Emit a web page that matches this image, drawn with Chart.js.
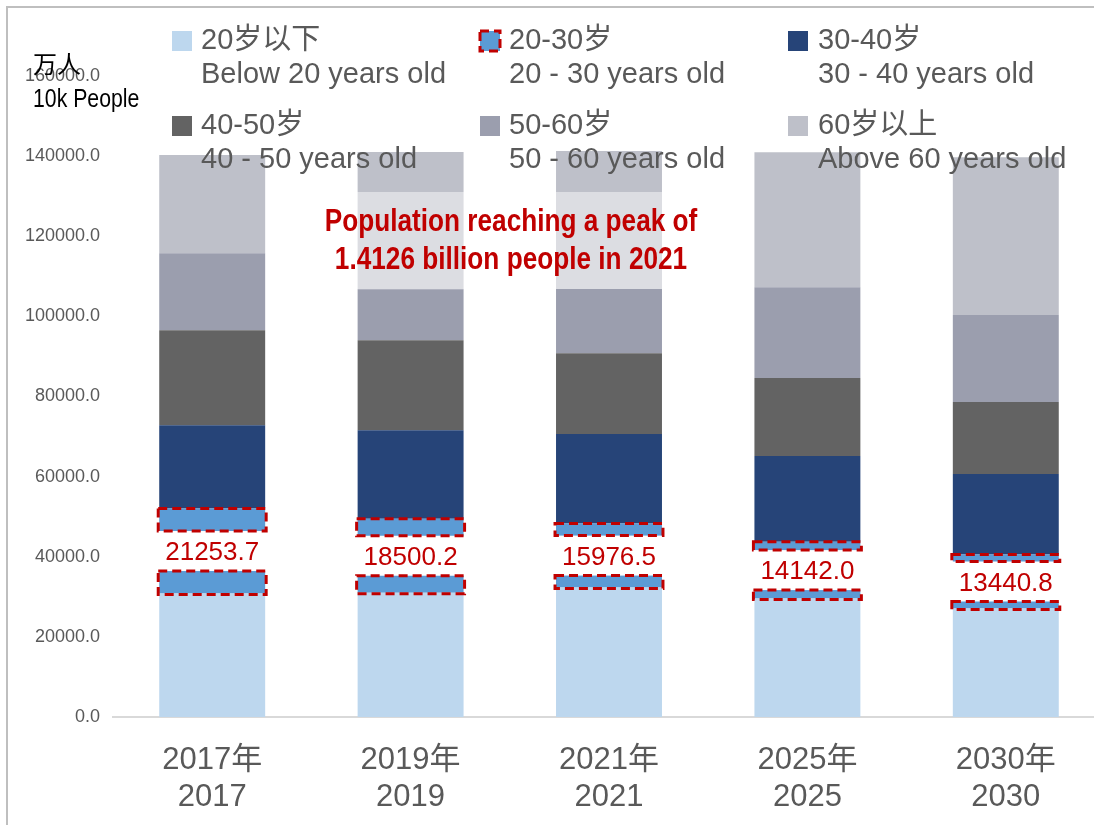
<!DOCTYPE html>
<html>
<head>
<meta charset="utf-8">
<title>人口年龄结构 Population by age group</title>
<script src="https://cdn.jsdelivr.net/npm/chart.js@4.4.1/dist/chart.umd.min.js"></script>
<style>
  html, body { margin: 0; padding: 0; background: #fff; overflow: hidden; }
  #wrap { width: 1094px; height: 825px; overflow: hidden; position: relative; }
  canvas { display: block; }
</style>
</head>
<body>
<div id="wrap"><canvas id="chart" width="1110" height="825"></canvas></div>
<script>
// Population by age group, unit: 10k people (万人)
const yearsCn = ['2017年', '2019年', '2021年', '2025年', '2030年'];
const yearsEn = ['2017', '2019', '2021', '2025', '2030'];

const groupsCn = ['20岁以下', '20-30岁', '30-40岁', '40-50岁', '50-60岁', '60岁以上'];
const groupsEn = ['Below 20 years old', '20 - 30 years old', '30 - 40 years old',
                  '40 - 50 years old', '50 - 60 years old', 'Above 60 years old'];

const below20   = [30800, 31000, 32300, 29600, 27100];
const age20to30 = [21253.7, 18500.2, 15976.5, 14142.0, 13440.8];
const age30to40 = [20800, 22100, 22350, 21400, 20100];
const age40to50 = [23700, 22450, 20200, 19450, 18000];
const age50to60 = [19200, 12700, 16000, 22700, 21700];
const above60   = [24500, 34250, 34433.5, 33700, 39400];

const colors = ['#BDD7EE', '#5B9BD5', '#264478', '#636363', '#9B9EAE', '#BEC0C9'];

const yTicks = [0, 20000, 40000, 60000, 80000, 100000, 120000, 140000, 160000];

const RED = '#C00000';
const GREY_TEXT = '#595959';
const FONT = '"Liberation Sans", Arial, "Noto Sans CJK SC", sans-serif';

Chart.defaults.font.family = FONT;

const seriesValues = [below20, age20to30, age30to40, age40to50, age50to60, above60];

const datasets = seriesValues.map((vals, i) => ({
  label: groupsCn[i],
  data: vals,
  backgroundColor: colors[i],
  borderWidth: 0,
  categoryPercentage: 1,
  barPercentage: 0.534
}));

function dashedRect(ctx, x, y, w, h) {
  ctx.save();
  ctx.strokeStyle = RED;
  ctx.lineWidth = 3;
  ctx.setLineDash([9, 5]);
  ctx.strokeRect(x, y, w, h);
  ctx.restore();
}

// narrow-style text: squeeze a regular face horizontally
function narrowText(ctx, text, x, y, squeeze) {
  ctx.save();
  ctx.translate(x, y);
  ctx.scale(squeeze, 1);
  ctx.fillText(text, 0, 0);
  ctx.restore();
}

const overlay = {
  id: 'overlay',
  beforeDraw(chart) {
    const ctx = chart.ctx;
    ctx.save();
    ctx.fillStyle = '#fff';
    ctx.fillRect(0, 0, chart.width, chart.height);
    // frame around the slide area
    ctx.strokeStyle = '#BFBFBF';
    ctx.lineWidth = 2;
    ctx.beginPath();
    ctx.moveTo(7, chart.height);
    ctx.lineTo(7, 7);
    ctx.lineTo(chart.width, 7);
    ctx.stroke();
    ctx.restore();
  },
  afterDatasetsDraw(chart) {
    const ctx = chart.ctx;

    // translucent box behind the peak note
    ctx.save();
    ctx.fillStyle = 'rgba(255,255,255,0.46)';
    ctx.fillRect(318, 192, 390, 97);
    ctx.restore();

    // 20-30 segment: white value box in the middle, dashed outlines above and below
    const meta = chart.getDatasetMeta(1);
    meta.data.forEach((bar, i) => {
      const { x, y, base, width } = bar.getProps(['x', 'y', 'base', 'width'], true);
      const mid = (y + base) / 2;
      const left = x - width / 2;
      ctx.save();
      ctx.fillStyle = '#fff';
      ctx.fillRect(left - 2, mid - 20, width + 4, 40);
      ctx.fillStyle = RED;
      ctx.font = '26px ' + FONT;
      ctx.textAlign = 'center';
      ctx.textBaseline = 'middle';
      ctx.fillText(age20to30[i].toFixed(1), x, mid + 2);
      ctx.restore();
      dashedRect(ctx, left - 1, y, width + 2, mid - 20 - y);
      dashedRect(ctx, left - 1, mid + 20, width + 2, base - mid - 20 + 1);
    });
  },
  afterDraw(chart) {
    const ctx = chart.ctx;
    ctx.save();

    // legend, three columns by two rows, Chinese over English
    const colMarker = [172, 480, 788];
    const colText = [201, 509, 818];
    const rowY = [41, 126];
    ctx.textBaseline = 'middle';
    ctx.textAlign = 'left';
    groupsCn.forEach((cn, i) => {
      const c = i % 3, r = Math.floor(i / 3);
      const my = rowY[r] - 10;
      ctx.fillStyle = colors[i];
      ctx.fillRect(colMarker[c], my, 20, 20);
      if (i === 1) dashedRect(ctx, colMarker[c], my, 20, 20);
      ctx.fillStyle = GREY_TEXT;
      ctx.font = '29px ' + FONT;
      ctx.fillText(cn, colText[c], rowY[r]);
      ctx.fillText(groupsEn[i], colText[c], rowY[r] + 34);
    });

    // unit label
    ctx.fillStyle = '#000';
    ctx.font = '24px ' + FONT;
    ctx.fillText('万人', 33, 66);
    ctx.font = '25px ' + FONT;
    narrowText(ctx, '10k People', 33, 100, 0.85);

    // peak note
    ctx.fillStyle = RED;
    ctx.textAlign = 'center';
    ctx.font = 'bold 31px ' + FONT;
    narrowText(ctx, 'Population reaching a peak of', 511, 222, 0.845);
    narrowText(ctx, '1.4126 billion people in 2021', 511, 260, 0.845);

    ctx.restore();
  }
};

new Chart(document.getElementById('chart'), {
  type: 'bar',
  data: {
    labels: yearsCn.map((cn, i) => [cn, yearsEn[i]]),
    datasets
  },
  options: {
    responsive: false,
    animation: false,
    devicePixelRatio: 1,
    layout: { padding: { top: 76, right: 5, left: 0, bottom: 0 } },
    plugins: {
      legend: { display: false },
      tooltip: { enabled: false }
    },
    scales: {
      x: {
        stacked: true,
        grid: { display: false },
        border: { display: true, color: '#D9D9D9', width: 2 },
        ticks: {
          color: GREY_TEXT,
          font: { size: 31, lineHeight: 1.2 },
          padding: 17,
          maxRotation: 0
        },
        afterFit(scale) { scale.height = 108; }
      },
      y: {
        stacked: true,
        min: 0,
        max: 160000,
        grid: { display: false },
        border: { display: false },
        afterBuildTicks(scale) { scale.ticks = yTicks.map(v => ({ value: v })); },
        ticks: {
          color: GREY_TEXT,
          font: { size: 18 },
          padding: 5,
          callback: v => Number(v).toFixed(1)
        },
        afterFit(scale) { scale.width = 113; }
      }
    }
  },
  plugins: [overlay]
});
</script>
</body>
</html>
